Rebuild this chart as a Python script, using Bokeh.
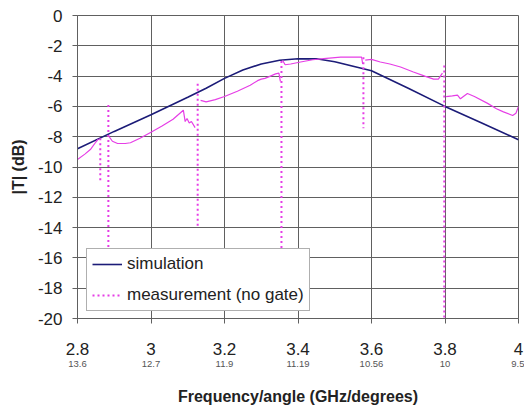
from bokeh.plotting import figure
from bokeh.models import (Range1d, FixedTicker, LinearAxis, Legend, LegendItem)
from bokeh.embed import file_html
from bokeh.resources import INLINE

# ---------------- data ----------------
sim_freq = [2.8, 2.9, 3.0, 3.1, 3.15, 3.2, 3.25, 3.3, 3.35, 3.4, 3.45, 3.5, 3.55, 3.6, 3.7, 3.8, 3.9, 4.0]
sim_db = [-8.8, -7.65, -6.55, -5.4, -4.8, -4.15, -3.6, -3.2, -2.95, -2.85, -2.86, -3.05, -3.35, -3.65, -4.8, -6.0, -7.1, -8.2]

NaN = float("nan")
meas_freq = [2.800, 2.820, 2.835, 2.850, 2.857, NaN,
             2.886, 2.895, 2.909, 2.930, 2.944, 2.970, 3.000, 3.030, 3.060, 3.088, 3.093, 3.098, 3.104, 3.110, 3.120, NaN,
             3.135, 3.150, 3.175, 3.200, 3.235, 3.270, 3.290, 3.300, 3.310, 3.320, 3.339, 3.348, 3.352, NaN,
             3.358, 3.365, 3.380, 3.407, 3.440, 3.470, 3.516, 3.573, 3.576, NaN,
             3.583, 3.600, 3.624, 3.650, 3.679, 3.714, 3.745, 3.769, 3.782, 3.793, NaN,
             3.803, 3.820, 3.834, 3.842, 3.850, 3.861, 3.880, 3.916, 3.940, 3.959, 3.984, 3.993, 4.000]
meas_db = [-9.5, -9.15, -8.85, -8.35, -8.15, NaN,
           -8.0, -8.3, -8.45, -8.45, -8.4, -8.1, -7.7, -7.3, -6.85, -6.25, -7.0, -6.8, -7.1, -7.0, -7.4, NaN,
           -5.6, -5.7, -5.55, -5.35, -5.0, -4.6, -4.3, -4.2, -4.15, -4.05, -3.85, -3.8, -4.35, NaN,
           -2.95, -3.25, -3.2, -3.07, -2.92, -2.85, -2.75, -2.74, -3.2, NaN,
           -2.95, -2.9, -3.07, -3.2, -3.4, -3.73, -4.0, -4.2, -4.2, -3.8, NaN,
           -5.35, -5.3, -5.25, -5.5, -5.35, -5.15, -5.35, -5.8, -6.15, -6.36, -6.6, -6.45, -6.0]

spike_freq = [2.862, 2.884, 3.127, 3.355, 3.578, 3.798]
spike_top = [-8.1, -5.9, -4.5, -3.0, -2.75, -3.3]
spike_bottom = [-11.0, -15.4, -14.0, -15.4, -7.45, -20.0]

x_ticks = [2.8, 3.0, 3.2, 3.4, 3.6, 3.8, 4.0]
x_labels = ["2.8", "3", "3.2", "3.4", "3.6", "3.8", "4"]
angle_labels = ["13.6", "12.7", "11.9", "11.19", "10.56", "10", "9.5"]
y_ticks = [0, -2, -4, -6, -8, -10, -12, -14, -16, -18, -20]
y_labels = ["0", "-2", "-4", "-6", "-8", "-10", "-12", "-14", "-16", "-18", "-20"]

SIM_COLOR = "#1c1c78"
MEAS_COLOR = "#e63ee6"
GRID = "#606060"
FONT = "Liberation Sans"

p = figure(width=524, height=407, output_backend="svg", toolbar_location=None,
           x_range=Range1d(2.8, 4.0), y_range=Range1d(-20, 0),
           min_border_left=77, min_border_right=6, min_border_top=15, min_border_bottom=88)

p.background_fill_color = "white"
p.border_fill_color = "white"
p.outline_line_color = GRID
p.outline_line_width = 1

# main axes
xa = p.xaxis[0]
xa.ticker = FixedTicker(ticks=x_ticks)
xa.major_label_overrides = {t: l for t, l in zip(x_ticks, x_labels)}
xa.major_label_text_font = FONT
xa.major_label_text_font_size = "17px"
xa.major_label_text_color = "#222222"
xa.major_label_standoff = 19
xa.major_tick_out = 5
xa.major_tick_in = 0
xa.minor_tick_out = 0
xa.minor_tick_in = 0
xa.axis_line_color = GRID
xa.major_tick_line_color = GRID

ya = p.yaxis[0]
ya.ticker = FixedTicker(ticks=y_ticks)
ya.major_label_overrides = {t: l for t, l in zip(y_ticks, y_labels)}
ya.major_label_text_font = FONT
ya.major_label_text_font_size = "17px"
ya.major_label_text_color = "#222222"
ya.major_label_standoff = 10
ya.major_tick_out = 5
ya.major_tick_in = 0
ya.minor_tick_out = 0
ya.minor_tick_in = 0
ya.axis_line_color = GRID
ya.major_tick_line_color = GRID
ya.axis_label = "|T| (dB)"
ya.axis_label_text_font = FONT
ya.axis_label_text_font_style = "bold"
ya.axis_label_text_font_size = "16px"
ya.axis_label_text_color = "#222222"
ya.axis_label_standoff = 8

# secondary axis with angles
ax2 = LinearAxis(ticker=FixedTicker(ticks=x_ticks),
                 major_label_overrides={t: l for t, l in zip(x_ticks, angle_labels)})
ax2.axis_line_color = None
ax2.major_tick_line_color = None
ax2.minor_tick_line_color = None
ax2.major_tick_out = 0
ax2.major_tick_in = 0
ax2.major_label_standoff = 3
ax2.major_label_text_font = FONT
ax2.major_label_text_font_size = "9.5px"
ax2.major_label_text_color = "#555555"
ax2.axis_label = "Frequency/angle (GHz/degrees)"
ax2.axis_label_text_font = FONT
ax2.axis_label_text_font_style = "bold"
ax2.axis_label_text_font_size = "16px"
ax2.axis_label_text_color = "#222222"
ax2.axis_label_standoff = 18
p.add_layout(ax2, "below")

p.xgrid.ticker = FixedTicker(ticks=x_ticks)
p.ygrid.ticker = FixedTicker(ticks=y_ticks)
p.xgrid.grid_line_color = GRID
p.ygrid.grid_line_color = GRID
p.xgrid.grid_line_width = 1
p.ygrid.grid_line_width = 1

# glyphs
r_sim = p.line(sim_freq, sim_db, line_color=SIM_COLOR, line_width=1.6)
r_meas = p.line(meas_freq, meas_db, line_color=MEAS_COLOR, line_width=1.2)
r_spk = p.segment(x0=spike_freq, y0=spike_top, x1=spike_freq, y1=spike_bottom,
                  line_color=MEAS_COLOR, line_width=2, line_dash="2 3")

legend = Legend(items=[LegendItem(label="simulation", renderers=[r_sim]),
                       LegendItem(label="measurement (no gate)", renderers=[r_spk])],
                location=(9, 7))
legend.level = "overlay"
legend.label_text_font = FONT
legend.label_text_font_size = "17px"
legend.label_text_color = "#222222"
legend.glyph_width = 30
legend.glyph_height = 18
legend.label_height = 18
legend.spacing = 11
legend.padding = 5
legend.margin = 0
legend.label_standoff = 5
legend.border_line_color = GRID
legend.border_line_width = 1
legend.background_fill_color = "white"
legend.background_fill_alpha = 1.0
p.add_layout(legend, "center")

open("out.html", "w").write(file_html(p, INLINE))
